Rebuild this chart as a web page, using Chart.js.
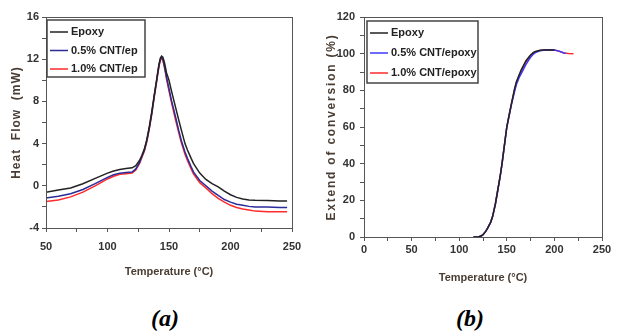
<!DOCTYPE html>
<html><head><meta charset="utf-8">
<script src="https://cdn.jsdelivr.net/npm/chart.js@4"></script>
<style>
html,body{margin:0;padding:0;background:#fff;width:618px;height:335px;overflow:hidden;}
#ca{position:absolute;left:0;top:0;}
#cb{position:absolute;left:310px;top:0;}
.lab{position:absolute;top:305px;font-family:"Liberation Serif",serif;font-weight:bold;font-style:italic;font-size:24px;color:#000;}
</style></head>
<body>
<canvas id="ca" width="310" height="290"></canvas>
<canvas id="cb" width="308" height="290"></canvas>
<div class="lab" style="left:151px">(a)</div>
<div class="lab" style="left:456px">(b)</div>
<script>
// ---- Panel (a): DSC heat flow ----
const tempA = [50,60,70,80,90,100,105,110,115,120,123,126,128,130,132,134,136,138,140,141,142,143,144,145,146,147,148,150,152,155,158,160,163,165,168,170,175,180,185,190,195,200,205,210,215,220,230,240,246];
const heatEpoxy = [-0.62,-0.4,-0.2,0.2,0.7,1.2,1.4,1.55,1.65,1.7,1.9,2.4,2.9,3.5,4.4,5.6,7.0,8.6,10.1,10.9,11.6,12.1,12.3,12.2,11.8,11.3,10.7,10.0,9.0,7.6,6.2,5.3,4.0,3.4,2.6,2.1,1.2,0.6,0.2,-0.1,-0.5,-0.85,-1.1,-1.25,-1.35,-1.38,-1.4,-1.45,-1.45];
const heatCnt05 = [-1.15,-1.0,-0.75,-0.35,0.2,0.8,1.05,1.2,1.25,1.3,1.6,2.2,2.8,3.4,4.3,5.5,6.9,8.5,10.0,10.8,11.5,12.0,12.2,12.0,11.5,10.9,10.3,9.2,8.1,6.7,5.2,4.3,3.2,2.6,1.8,1.3,0.5,0.0,-0.5,-0.9,-1.3,-1.55,-1.75,-1.85,-1.95,-2.0,-2.0,-2.05,-2.05];
const heatCnt10 = [-1.5,-1.35,-1.05,-0.6,0.0,0.65,0.9,1.1,1.15,1.2,1.5,2.1,2.7,3.3,4.2,5.4,6.8,8.4,9.9,10.7,11.4,11.9,12.1,11.9,11.4,10.8,10.1,9.0,7.9,6.4,5.0,4.1,3.0,2.4,1.6,1.1,0.3,-0.2,-0.75,-1.2,-1.55,-1.85,-2.05,-2.2,-2.3,-2.4,-2.45,-2.45,-2.45];
const labelsA = ["Epoxy","0.5% CNT/ep","1.0% CNT/ep"];

// ---- Panel (b): extent of conversion ----
const tempEpoxyB = [115,120,123,125,128,130,133,135,138,140,143,145,148,150,153,155,158,160,163,165,168,170,173,175,178,180,185,190,195,200];
const convEpoxy  = [0,0,0.5,1.3,3.2,5,8,11,18,24,33,40,52,60,68,73,80.5,84.5,88.5,91,94,96,98,99.3,100.7,101.2,101.8,102,102,102];
const tempCnt05B = [115,120,123,125,128,130,133,135,138,140,143,145,148,150,153,155,158,160,163,165,168,170,173,175,178,180,185,190,195,200,205,210,212];
const convCnt05  = [0,0,0.5,1.3,3.2,5,8,11,18,24,33,40,52,60,67.5,72.5,79,83,87,89,92,94,96.5,98,99.8,100.6,101.6,102,102,102,101.4,100.4,100.2];
const tempCnt10B = [115,120,123,125,128,130,133,135,138,140,143,145,148,150,153,155,158,160,163,165,168,170,173,175,178,180,185,190,195,200,205,210,215,220];
const convCnt10  = [0,0,0.5,1.3,3.2,5,8,11,18,24,33,40,52,60,68,73,80,84,88,90,93.5,95.5,97.5,99,100.5,101,101.8,102,102,102,101.3,100.4,100.1,100];
const labelsB = ["Epoxy","0.5% CNT/epoxy","1.0% CNT/epoxy"];

const pts = (xs, ys) => xs.map((x, i) => ({x: x, y: ys[i]}));
const FONT = '"Liberation Sans", Arial, sans-serif';
const TICKC = '#333333';
const TITLEC = '#4a3d33';
const AXC = '#555555';

function boxPlugin(leg, ySpacing) {
  return {
    id: 'boxleg',
    afterLayout(chart) {
      const s = chart.scales.y;
      if (s && !s._spacedTitle) {
        s._spacedTitle = true;
        const orig = s.drawTitle.bind(s);
        s.drawTitle = function (area) {
          const c = this.ctx;
          c.save();
          c.letterSpacing = ySpacing + 'px';
          orig(area);
          c.restore();
        };
      }
    },
    afterDatasetsDraw(chart) {
      const ctx = chart.ctx, a = chart.chartArea;
      ctx.save();
      ctx.strokeStyle = AXC; ctx.lineWidth = 1;
      ctx.strokeRect(a.left + 0.5, a.top + 0.5, a.right - a.left, a.bottom - a.top);
      // legend
      ctx.fillStyle = '#fff';
      ctx.fillRect(leg.x, leg.y, leg.w, leg.h);
      ctx.strokeStyle = '#444'; ctx.lineWidth = 1.5;
      ctx.strokeRect(leg.x, leg.y, leg.w, leg.h);
      ctx.font = 'bold 11px ' + FONT;
      ctx.textBaseline = 'middle';
      chart.data.datasets.forEach((ds, i) => {
        const y = leg.y + leg.first + i * leg.gap;
        ctx.strokeStyle = ds.borderColor; ctx.lineWidth = 1.5;
        ctx.beginPath(); ctx.moveTo(leg.x + 3, y); ctx.lineTo(leg.x + 21, y); ctx.stroke();
        ctx.fillStyle = '#222';
        ctx.fillText(ds.label, leg.x + 24, y);
      });
      ctx.restore();
    }
  };
}

function axis(min, max, step, every, title, padTitle, padTicks, fitSize, isX, titleSize) {
  return {
    type: 'linear', min: min, max: max,
    afterFit(s) { if (isX) s.height = fitSize; else s.width = fitSize; },
    grid: { drawOnChartArea: false, drawTicks: true, tickLength: 4, color: AXC, tickColor: AXC },
    border: { display: true, color: AXC, width: 1 },
    ticks: {
      stepSize: step, autoSkip: false, maxRotation: 0, padding: padTicks,
      color: TICKC, font: { family: FONT, weight: 'bold', size: 11 },
      callback: (v) => (Math.abs(v / every - Math.round(v / every)) < 1e-9 ? String(v) : '')
    },
    title: {
      display: true, text: title, color: TITLEC,
      font: { family: FONT, weight: 'bold', size: titleSize },
      padding: isX ? { top: 0, bottom: padTitle } : { top: padTitle, bottom: 0 }
    }
  };
}

function ds(label, color, data) {
  return { label: label, data: data, borderColor: color, backgroundColor: color,
           borderWidth: 1.5, pointRadius: 0, tension: 0, fill: false };
}

new Chart(document.getElementById('ca'), {
  type: 'line',
  data: { datasets: [
    ds(labelsA[0], '#222222', pts(tempA, heatEpoxy)),
    ds(labelsA[1], '#2b2b9a', pts(tempA, heatCnt05)),
    ds(labelsA[2], '#ff2a2a', pts(tempA, heatCnt10))
  ]},
  options: {
    responsive: false, animation: false, devicePixelRatio: 1,
    layout: { padding: { top: 17, right: 18, left: 0, bottom: 0 } },
    plugins: { legend: { display: false }, tooltip: { enabled: false } },
    scales: {
      x: axis(50, 250, 25, 50, 'Temperature (°C)', 11, 8, 62, true, 11),
      y: axis(-4, 16, 2, 4, 'Heat  Flow  (mW)', 9, 3, 46, false, 12)
    }
  },
  plugins: [boxPlugin({ x: 47, y: 20, w: 98, h: 57, first: 12, gap: 18.5 }, 1.0)]
});

new Chart(document.getElementById('cb'), {
  type: 'line',
  data: { datasets: [
    ds(labelsB[0], '#222222', pts(tempEpoxyB, convEpoxy)),
    ds(labelsB[1], '#3a3aff', pts(tempCnt05B, convCnt05)),
    ds(labelsB[2], '#ff2a2a', pts(tempCnt10B, convCnt10))
  ]},
  options: {
    responsive: false, animation: false, devicePixelRatio: 1,
    layout: { padding: { top: 17, right: 16, left: 0, bottom: 0 } },
    plugins: { legend: { display: false }, tooltip: { enabled: false } },
    scales: {
      x: axis(0, 250, 25, 50, 'Temperature (°C)', 5, 2, 53, true, 11),
      y: axis(0, 120, 10, 20, 'Extend of conversion (%)', 14, 5, 54, false, 12)
    }
  },
  plugins: [boxPlugin({ x: 57, y: 21, w: 111, h: 62, first: 12, gap: 20 }, 1.8)]
});
</script>
</body></html>
